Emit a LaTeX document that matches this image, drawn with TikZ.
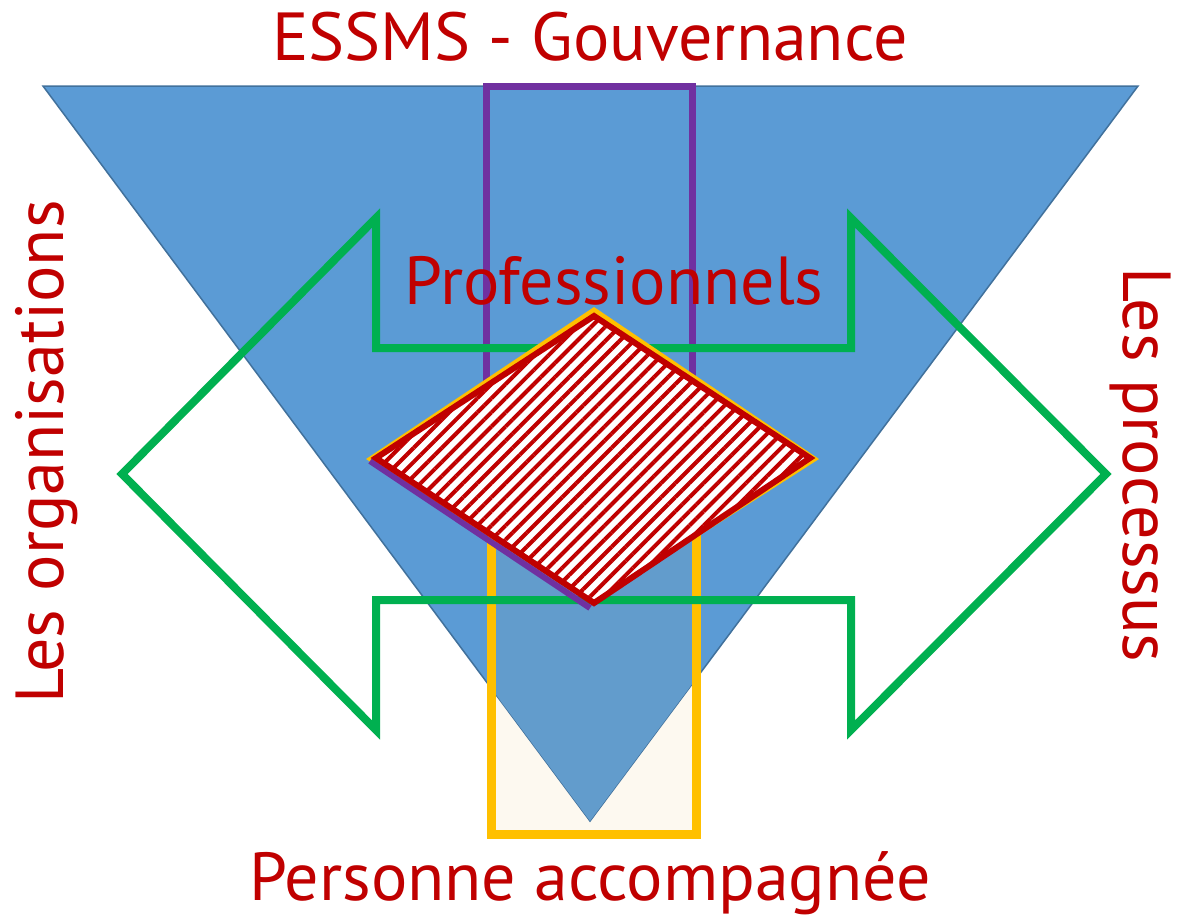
\documentclass[tikz,border=0pt]{standalone}
\usepackage{fontspec}
\setmainfont{PT Sans}
\usetikzlibrary{patterns.meta}
\definecolor{essblue}{HTML}{5B9BD5}
\definecolor{essedge}{HTML}{41719C}
\definecolor{esstint}{HTML}{629CCC}
\definecolor{esspurple}{HTML}{7030A0}
\definecolor{essyellow}{HTML}{FFC000}
\definecolor{essgreen}{HTML}{00B050}
\definecolor{essred}{HTML}{C00000}
\definecolor{esscream}{HTML}{FDF9F0}
\tikzset{lbl/.style={text=essred, font=\fontsize{34}{40}\selectfont, inner sep=0pt, anchor=base}}

\begin{document}
\begin{tikzpicture}[x=0.5pt, y=-0.5pt]
		\useasboundingbox (0,0) rectangle (1193,918);
		\fill[white] (0,0) rectangle (1193,918);
		\coordinate (tl) at (43,86);
		\coordinate (tr) at (1138,86);
		\coordinate (ap) at (590,821);
		\coordinate (dl) at (376,458);
		\coordinate (dt) at (594,316);
		\coordinate (dr) at (810,458);
		\coordinate (db) at (594,603);
		\fill[esscream] (491,500) rectangle (696,834);
		\filldraw[fill=essblue, draw=essedge, line width=0.75pt] (tl) -- (tr) -- (ap) -- cycle;
		\begin{scope}
			\clip (491,500) rectangle (696,834);
			\fill[esstint] (tl) -- (tr) -- (ap) -- cycle;
		\end{scope}
		\draw[esspurple, line width=3.5pt] (486,450) rectangle (692,86);
		\draw[essyellow, line width=4.5pt] (491,500) rectangle (696,834);
		\draw[essgreen, line width=4pt] (376,218) -- (376,348) -- (851,348) -- (851,218) -- (1106,474)
		-- (851,730) -- (851,600) -- (376,600) -- (376,730) -- (122,474) -- cycle;
		\fill[essyellow] (366,459) -- (594,307) -- (819,459) -- (db) -- cycle;
		\draw[esspurple, line width=3pt] (370,461) -- (590,608);
		\fill[white] (dl) -- (dt) -- (dr) -- (db) -- cycle;
		\path[pattern={Lines[angle=45, distance=5pt, line width=2pt]}, pattern color=essred]
		(dl) -- (dt) -- (dr) -- (db) -- cycle;
		\draw[essred, line width=3pt, line join=miter] (dl) -- (dt) -- (dr) -- (db) -- cycle;
		\node[lbl] (gouv) at (590,60) {ESSMS - Gouvernance};
		\node[lbl] (pro) at (614,304) {Professionnels};
		\node[lbl] (pers) at (590,900) {Personne accompagnée};
		\node[lbl, rotate=90] (orga) at (63,452) {Les organisations};
		\node[lbl, rotate=-90] (proc) at (1123,465) {Les processus};
	\end{tikzpicture}
\end{document}
